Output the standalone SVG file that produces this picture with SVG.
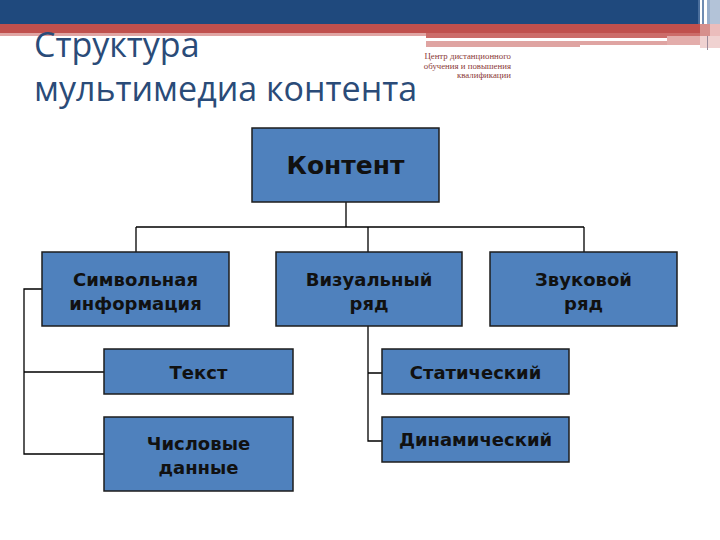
<svg xmlns="http://www.w3.org/2000/svg" width="720" height="540" viewBox="0 0 720 540">
<style>
.box{fill:#4F81BD;stroke:#1d1d1d;stroke-width:1.5}
.lbl{font-family:"DejaVu Sans",Verdana,sans-serif;font-weight:bold;font-size:18px;fill:#111;text-anchor:middle}
.conn{stroke:#000;stroke-width:1.3;fill:none}
.title{font-family:"Open Sans","Noto Sans",sans-serif;font-size:34px;fill:#2A4B78}
.small{font-family:"Liberation Serif",serif;font-size:8.8px;fill:#8B3A38;text-anchor:end}
</style>
<rect width="720" height="540" fill="#fff"/>
<g id="header">
<rect x="0" y="0" width="700" height="24" fill="#1F497D"/>
<rect x="0" y="24" width="700" height="9" fill="#C0504D"/>
<rect x="0" y="33" width="426" height="3" fill="#E0A5A3"/>
<rect x="426" y="33" width="274" height="5" fill="#CC6C69"/>
<rect x="426" y="41" width="281" height="4" fill="#DFA4A2"/>
<rect x="426" y="45" width="154" height="2" fill="#DFA4A2"/>
<rect x="667" y="36" width="40" height="9" fill="#E3ADAB"/>
<rect x="698" y="0" width="2" height="24" fill="#4A6E9C"/>
<rect x="702" y="0" width="2" height="24" fill="#6F8CB2"/>
<rect x="707" y="0" width="3" height="24" fill="#97AECB"/>
<rect x="710" y="0" width="10" height="24" fill="#B3C3D8"/>
<rect x="700" y="24" width="10" height="12" fill="#D68F8C"/>
<rect x="710" y="24" width="10" height="12" fill="#EBBDBC"/>
<rect x="700" y="36" width="20" height="12" fill="#F0D2D1"/>
<rect x="707" y="36" width="1" height="14" fill="#9A8A9A"/>
</g>
<g id="title">
<text class="title" x="34" y="57">Структура</text>
<text class="title" x="34" y="101">мультимедиа контента</text>
</g>
<g id="subtitle">
<text class="small" x="511" y="59">Центр дистанционного</text>
<text class="small" x="511" y="68.5">обучения и повышения</text>
<text class="small" x="511" y="78">квалификации</text>
</g>
<g id="connectors">
<path class="conn" d="M346 202V227M136 227H584M136 227V252M368 227V252M584 227V252"/>
<path class="conn" d="M42 289H24V454H104M24 372H104"/>
<path class="conn" d="M368 326V441H382M368 373H382"/>
</g>
<g id="n-content">
<rect class="box" x="252" y="128" width="187" height="74"/>
<text class="lbl" x="345.5" y="174" style="font-size:25px">Контент</text>
</g>
<g id="n-symbol">
<rect class="box" x="42" y="252" width="187" height="74"/>
<text class="lbl" x="135.5" y="285.5">Символьная</text>
<text class="lbl" x="135.5" y="309.5">информация</text>
</g>
<g id="n-visual">
<rect class="box" x="276" y="252" width="186" height="74"/>
<text class="lbl" x="369" y="285.5">Визуальный</text>
<text class="lbl" x="369" y="309.5">ряд</text>
</g>
<g id="n-sound">
<rect class="box" x="490" y="252" width="187" height="74"/>
<text class="lbl" x="583.5" y="285.5">Звуковой</text>
<text class="lbl" x="583.5" y="309.5">ряд</text>
</g>
<g id="n-text">
<rect class="box" x="104" y="349" width="189" height="45"/>
<text class="lbl" x="198.5" y="379">Текст</text>
</g>
<g id="n-numeric">
<rect class="box" x="104" y="417" width="189" height="74"/>
<text class="lbl" x="198.5" y="449.5">Числовые</text>
<text class="lbl" x="198.5" y="473.5">данные</text>
</g>
<g id="n-static">
<rect class="box" x="382" y="349" width="187" height="45"/>
<text class="lbl" x="475.5" y="379">Статический</text>
</g>
<g id="n-dynamic">
<rect class="box" x="382" y="417" width="187" height="45"/>
<text class="lbl" x="475.5" y="446">Динамический</text>
</g>
</svg>
